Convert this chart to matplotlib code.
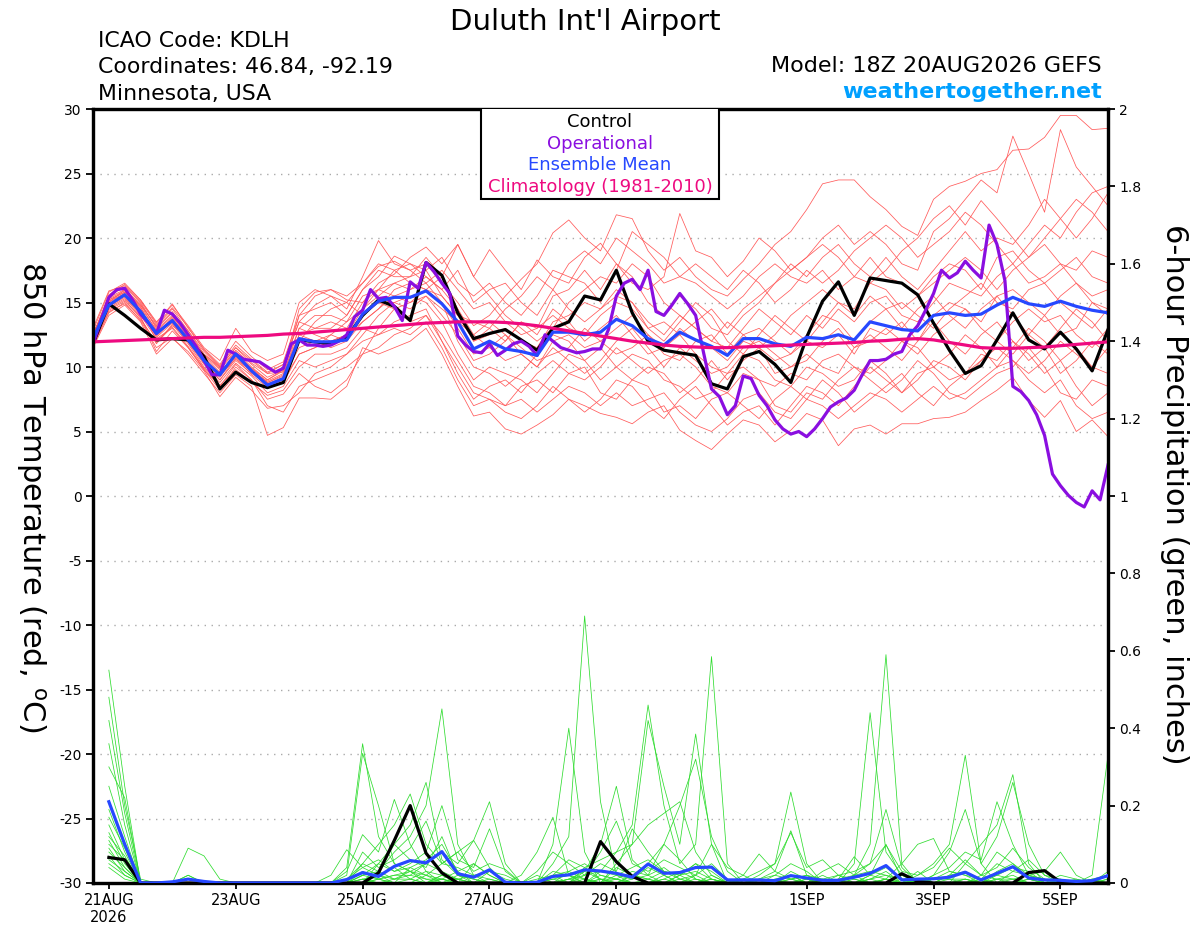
import numpy as np
import matplotlib
matplotlib.use('Agg')
import matplotlib.pyplot as plt
from matplotlib.patches import Rectangle

plt.rcParams['axes.unicode_minus'] = False
plt.rcParams['font.family'] = 'DejaVu Sans'

# forecast times: 18Z 20AUG2026 run, 6-hourly to 384h (operational 3-hourly)
init = np.datetime64('2026-08-20T18:00')
times = init + np.arange(65) * np.timedelta64(6, 'h')
oper_times = init + np.arange(129) * np.timedelta64(3, 'h')

# 850 hPa temperature (C)
control_t = [11.8, 14.9, 14.0, 13.0, 12.1, 12.2, 12.1, 10.8, 8.3, 9.6,
             8.8, 8.4, 8.8, 12.1, 11.95, 11.8, 12.3, 14.0, 15.2, 14.7,
             13.6, 18.1, 17.1, 14.2, 12.2, 12.6, 12.9, 12.1, 11.3, 13.0,
             13.5, 15.5, 15.2, 17.5, 14.2, 12.0, 11.3, 11.1, 10.9, 8.7,
             8.3, 10.8, 11.2, 10.2, 8.8, 12.3, 15.1, 16.6, 14.0, 16.9,
             16.7, 16.5, 15.6, 13.4, 11.3, 9.5, 10.1, 12.1, 14.2, 12.1,
             11.4, 12.7, 11.4, 9.7, 12.9]
mean_t = [12.2, 14.8, 15.6, 14.3, 12.6, 13.6, 12.1, 10.5, 9.4, 11.0,
          9.7, 8.6, 9.1, 12.2, 11.95, 11.95, 12.1, 14.1, 15.1, 15.4,
          15.4, 15.9, 14.9, 13.5, 11.4, 12.0, 11.4, 11.2, 10.9, 12.7,
          12.7, 12.5, 12.7, 13.7, 13.2, 12.2, 11.7, 12.7, 12.1, 11.6,
          10.9, 12.2, 12.2, 11.8, 11.6, 12.3, 12.2, 12.5, 12.1, 13.5,
          13.2, 12.9, 12.8, 14.0, 14.2, 14.0, 14.1, 14.8, 15.4, 14.9,
          14.7, 15.1, 14.7, 14.4, 14.2]
clim_t = [11.95, 12.0, 12.05, 12.1, 12.15, 12.2, 12.25, 12.3, 12.3, 12.35,
          12.4, 12.45, 12.55, 12.6, 12.7, 12.8, 12.9, 13.0, 13.1, 13.2,
          13.3, 13.4, 13.45, 13.5, 13.5, 13.5, 13.45, 13.35, 13.2, 13.0,
          12.8, 12.6, 12.4, 12.2, 12.0, 11.85, 11.7, 11.6, 11.55, 11.5,
          11.5, 11.55, 11.6, 11.65, 11.7, 11.75, 11.8, 11.85, 11.9, 12.0,
          12.05, 12.15, 12.2, 12.1, 11.9, 11.7, 11.5, 11.45, 11.45, 11.5,
          11.55, 11.65, 11.75, 11.85, 11.95]
oper_t = [11.8, 13.6, 15.4, 16.0, 16.1, 15.2, 14.1, 13.4, 12.6, 14.4,
          14.1, 13.4, 12.5, 11.6, 10.5, 9.4, 9.4, 11.3, 11.0, 10.6,
          10.5, 10.4, 10.0, 9.6, 9.9, 11.8, 12.1, 11.7, 11.7, 11.6,
          11.7, 12.0, 12.5, 13.9, 14.4, 16.0, 15.3, 15.4, 14.7, 13.6,
          16.6, 16.1, 18.1, 17.4, 16.5, 15.7, 12.4, 11.7, 11.2, 11.1,
          11.8, 10.9, 11.3, 11.8, 12.0, 11.6, 10.9, 12.5, 12.0, 11.5,
          11.3, 11.1, 11.2, 11.4, 11.4, 12.9, 15.5, 16.5, 16.8, 16.0,
          17.5, 14.3, 14.0, 14.8, 15.7, 14.9, 14.0, 11.1, 8.3, 7.7,
          6.3, 7.0, 9.3, 9.1, 7.8, 7.0, 5.9, 5.2, 4.8, 5.0,
          4.6, 5.2, 6.0, 6.9, 7.3, 7.6, 8.2, 9.4, 10.5, 10.5,
          10.6, 11.0, 11.2, 12.5, 13.2, 14.4, 15.7, 17.5, 16.9, 17.3,
          18.2, 17.5, 16.9, 21.0, 19.5, 16.7, 8.5, 8.1, 7.4, 6.3,
          4.7, 1.7, 0.8, 0.05, -0.5, -0.85, 0.4, -0.3, 2.4]

# ensemble members, 850 hPa temperature
members_t = [
    [12.5, 15.5, 16.2, 15.0, 13.0, 14.2, 12.8, 11.0, 10.0, 11.5, 10.5, 9.5, 10.2,
     13.5, 14.8, 15.5, 15.0, 16.5, 17.8, 18.2, 17.5, 18.0, 16.5, 15.0, 13.2, 14.0,
     15.5, 16.8, 18.0, 20.4, 21.4, 20.0, 19.0, 21.8, 21.5, 19.0, 17.5, 18.5, 17.0,
     16.0, 15.5, 16.8, 18.0, 19.5, 20.5, 22.2, 24.2, 24.5, 24.5, 23.2, 22.2, 20.9,
     20.2, 23.0, 24.0, 24.4, 25.0, 25.3, 26.8, 26.9, 27.8, 29.5, 29.5, 28.4, 28.5],
    [12.0, 15.2, 15.8, 14.8, 12.8, 13.9, 12.5, 10.9, 9.8, 11.2, 10.0, 9.0, 9.8,
     14.5, 15.8, 16.0, 15.2, 15.0, 16.5, 17.2, 18.5, 19.3, 18.0, 19.5, 17.0, 19.1,
     17.5, 16.0, 18.3, 17.0, 16.5, 18.5, 19.6, 18.0, 16.5, 16.0, 17.0, 21.9, 19.0,
     18.5, 17.0, 18.2, 20.0, 19.0, 17.5, 18.5, 20.0, 21.0, 19.5, 20.5, 19.5, 18.0,
     17.5, 20.5, 21.5, 23.0, 24.5, 23.5, 27.9, 25.0, 22.0, 28.4, 25.5, 24.0, 22.5],
    [11.6, 14.2, 15.0, 13.6, 11.5, 12.3, 11.0, 9.5, 8.0, 9.4, 8.5, 4.7, 5.3,
     7.6, 7.6, 7.5, 8.5, 11.5, 11.0, 11.5, 12.0, 13.0, 11.0, 8.5, 6.2, 6.5,
     5.2, 4.8, 5.5, 6.3, 7.5, 7.0, 6.4, 6.1, 5.6, 6.5, 7.0, 5.1, 4.3,
     3.6, 4.8, 5.9, 5.5, 4.2, 5.1, 6.4, 5.9, 3.9, 5.2, 5.5, 4.8, 5.6,
     5.6, 6.0, 6.1, 6.5, 7.4, 8.2, 9.2, 7.4, 6.1, 7.4, 5.0, 5.9, 4.6],
    [12.3, 14.6, 15.3, 14.0, 12.2, 13.0, 11.5, 9.8, 8.5, 10.2, 9.0, 7.5, 7.9,
     9.5, 8.5, 8.0, 9.0, 11.0, 13.0, 14.5, 13.5, 14.0, 12.0, 10.0, 8.0, 7.5,
     7.0, 8.5, 9.0, 8.0, 9.5, 10.0, 8.0, 7.5, 9.0, 8.5, 6.5, 7.0, 6.0,
     7.5, 8.0, 7.0, 6.0, 7.5, 8.5, 7.5, 9.0, 8.0, 6.5, 7.5, 8.5, 9.5,
     8.0, 7.0, 8.5, 9.5, 11.0, 10.5, 12.0, 11.0, 9.5, 10.5, 8.5, 7.0, 8.0],
    [12.0, 15.0, 16.0, 14.8, 13.2, 14.5, 12.8, 11.2, 10.0, 11.5, 10.3, 9.5, 9.6,
     12.5, 13.0, 13.5, 13.0, 15.0, 16.0, 16.5, 16.0, 17.0, 16.0, 14.5, 12.0, 12.5,
     13.0, 12.0, 11.5, 13.5, 14.0, 15.0, 14.5, 15.5, 15.0, 13.5, 12.5, 14.0, 13.0,
     12.0, 11.5, 13.0, 14.5, 13.5, 12.5, 14.0, 13.0, 14.5, 13.5, 15.0, 15.5, 14.0,
     13.5, 15.0, 16.5, 16.0, 15.5, 17.0, 18.0, 16.5, 17.0, 18.0, 16.5, 15.5, 16.0],
    [12.8, 15.8, 16.5, 15.2, 13.5, 14.8, 13.2, 11.5, 10.5, 13.0, 11.2, 10.5, 11.0,
     15.0, 16.0, 15.5, 14.5, 17.0, 19.8, 18.0, 17.5, 16.5, 17.5, 16.0, 14.5, 15.0,
     13.5, 12.5, 13.0, 15.5, 16.0, 17.5, 16.0, 18.0, 17.0, 15.0, 14.0, 15.5, 14.5,
     13.0, 12.5, 14.0, 15.0, 16.5, 18.0, 17.0, 18.5, 19.5, 18.0, 17.0, 18.5, 17.0,
     16.0, 17.5, 19.0, 20.5, 19.0, 20.0, 19.5, 21.0, 23.0, 21.5, 20.0, 21.5, 23.5],
    [11.8, 14.5, 15.2, 13.8, 11.8, 13.3, 11.8, 10.0, 8.8, 10.3, 9.3, 8.0, 8.5,
     10.5, 10.0, 10.5, 11.0, 12.5, 14.0, 15.0, 15.5, 15.0, 13.5, 11.0, 9.0, 10.0,
     9.5, 9.0, 8.0, 9.5, 11.0, 10.5, 11.5, 10.0, 9.0, 10.0, 9.5, 8.0, 9.0,
     10.5, 9.0, 10.5, 11.5, 9.5, 10.0, 11.0, 10.0, 9.5, 11.5, 12.5, 11.5, 10.5,
     12.0, 13.5, 12.0, 11.0, 12.5, 13.5, 12.0, 10.5, 11.5, 9.5, 10.5, 12.0, 11.0],
    [12.5, 15.3, 15.9, 14.6, 12.9, 14.0, 12.3, 10.8, 9.6, 11.0, 9.8, 8.8, 9.4,
     13.0, 12.5, 12.0, 12.5, 14.5, 15.5, 16.5, 17.0, 17.5, 15.5, 14.0, 13.5, 13.0,
     12.0, 13.5, 12.5, 14.5, 13.5, 12.0, 13.0, 14.0, 12.5, 11.0, 11.5, 12.5, 11.0,
     10.0, 9.5, 11.0, 10.5, 9.0, 8.5, 10.0, 9.5, 8.5, 9.0, 10.5, 9.5, 8.0,
     9.5, 10.0, 9.0, 9.5, 10.5, 12.0, 11.0, 12.5, 14.0, 12.5, 13.0, 15.0, 14.5],
    [12.1, 14.9, 15.5, 14.2, 12.4, 13.6, 12.0, 10.3, 9.2, 10.8, 9.6, 8.5, 9.0,
     11.0, 11.5, 12.5, 12.0, 13.5, 14.5, 15.5, 15.0, 16.0, 15.0, 13.0, 11.0, 11.5,
     10.5, 11.0, 10.0, 12.0, 12.5, 11.5, 12.0, 13.0, 14.0, 12.5, 11.5, 13.0, 12.0,
     11.5, 10.5, 12.0, 11.5, 10.5, 11.0, 12.0, 11.5, 12.5, 11.0, 13.0, 12.5, 13.5,
     12.0, 14.0, 15.0, 14.5, 13.5, 15.5, 16.0, 15.0, 14.0, 15.5, 16.5, 15.0, 14.0],
    [12.4, 15.6, 16.4, 15.2, 13.4, 14.9, 13.0, 11.4, 10.2, 12.0, 10.8, 9.8, 10.4,
     14.0, 14.5, 15.0, 14.0, 16.0, 17.0, 18.6, 18.0, 17.0, 16.0, 17.5, 15.0, 16.0,
     16.5, 15.0, 14.0, 16.0, 18.0, 19.0, 18.0, 20.0, 19.0, 18.0, 16.5, 17.0, 16.5,
     15.5, 14.5, 15.5, 17.0, 18.0, 17.0, 16.5, 17.5, 16.0, 17.0, 18.5, 17.0, 16.5,
     15.5, 16.5, 17.5, 18.5, 17.5, 16.0, 17.5, 18.5, 19.5, 18.0, 17.5, 19.0, 18.5],
    [11.9, 14.4, 15.1, 13.9, 11.2, 12.8, 11.5, 9.8, 8.2, 10.0, 9.0, 7.0, 6.5,
     8.5, 9.0, 9.5, 10.0, 11.0, 11.5, 12.5, 13.0, 14.0, 12.5, 10.5, 8.5, 8.0,
     7.0, 7.5, 6.5, 7.5, 8.5, 8.0, 7.0, 8.0, 7.0, 7.5, 8.0, 6.5, 5.5,
     5.0, 6.0, 7.5, 8.0, 6.5, 6.0, 7.5, 7.0, 6.0, 7.0, 8.0, 7.5, 6.5,
     7.5, 8.5, 7.5, 8.0, 9.0, 10.0, 10.5, 9.0, 8.0, 9.0, 7.0, 6.0, 6.5],
    [12.6, 15.1, 15.7, 14.4, 12.7, 13.7, 12.2, 10.6, 9.4, 10.6, 9.7, 8.9, 9.5,
     12.0, 13.5, 14.5, 15.0, 14.0, 15.0, 15.0, 14.5, 15.5, 14.5, 13.5, 12.5, 11.5,
     12.5, 11.5, 10.5, 11.0, 11.5, 13.0, 12.0, 11.0, 11.5, 12.5, 11.0, 10.5, 12.0,
     12.5, 11.0, 12.5, 13.0, 12.0, 11.0, 12.5, 14.0, 13.5, 12.0, 13.5, 14.5, 15.0,
     14.0, 13.0, 14.5, 15.5, 16.5, 15.0, 14.5, 16.0, 16.5, 15.0, 14.0, 13.0, 14.5],
    [12.2, 14.7, 15.4, 14.1, 12.5, 13.5, 12.0, 10.4, 9.0, 10.5, 9.5, 8.7, 9.2,
     11.5, 12.0, 11.5, 12.0, 14.0, 15.0, 14.5, 15.0, 15.5, 14.0, 12.5, 10.5, 11.0,
     12.0, 13.5, 13.0, 14.0, 13.0, 12.5, 14.0, 15.0, 14.5, 13.0, 13.5, 12.5, 13.5,
     14.5, 13.0, 14.5, 15.5, 16.5, 17.5, 18.5, 19.5, 18.5, 17.0, 16.5, 17.5, 19.0,
     20.0, 21.5, 22.5, 21.0, 22.9, 21.5, 20.0, 18.5, 20.0, 21.5, 23.0, 22.0, 20.5],
    [11.7, 14.3, 14.9, 13.7, 11.9, 13.1, 11.6, 9.9, 8.6, 9.8, 8.8, 7.8, 8.2,
     10.0, 11.0, 11.0, 11.5, 13.0, 12.5, 13.5, 14.0, 14.5, 12.0, 9.5, 7.5, 8.5,
     9.0, 8.0, 9.5, 10.5, 9.5, 9.0, 10.0, 11.5, 10.5, 9.5, 10.5, 11.0, 10.0,
     8.5, 8.0, 9.5, 9.0, 8.5, 9.5, 9.0, 10.5, 11.0, 10.0, 9.5, 10.5, 12.0,
     11.5, 10.0, 11.0, 12.5, 11.5, 10.0, 11.5, 13.0, 12.0, 10.5, 11.5, 10.0, 9.5],
    [12.3, 15.4, 16.0, 14.9, 13.1, 14.3, 12.6, 11.0, 9.9, 11.3, 10.2, 9.2, 9.8,
     13.0, 14.0, 14.0, 13.5, 15.5, 16.0, 17.5, 16.5, 16.0, 17.0, 19.5, 17.0, 15.5,
     14.0, 13.0, 12.0, 13.0, 15.0, 16.0, 17.0, 16.5, 18.0, 17.0, 15.0, 14.0, 13.0,
     12.0, 13.5, 12.5, 11.5, 12.5, 14.0, 15.0, 16.0, 15.0, 14.0, 15.5, 14.5, 13.0,
     14.5, 15.5, 14.0, 13.0, 14.5, 15.5, 14.0, 12.5, 11.5, 13.0, 14.5, 13.5, 12.0],
    [12.0, 14.8, 15.5, 14.4, 12.6, 13.8, 12.3, 10.5, 9.3, 10.9, 9.9, 8.8, 9.3,
     12.5, 12.0, 12.5, 13.5, 14.5, 16.0, 15.5, 16.0, 16.5, 15.0, 12.0, 10.0, 9.5,
     8.5, 9.5, 11.0, 12.5, 12.0, 10.5, 9.0, 10.0, 11.0, 10.5, 9.0, 8.5, 7.5,
     8.0, 9.5, 10.0, 9.0, 7.0, 6.5, 8.0, 7.5, 9.0, 10.0, 9.0, 8.0, 9.0,
     10.5, 9.5, 8.0, 7.5, 8.5, 9.5, 10.0, 11.5, 10.0, 8.0, 7.5, 9.0, 8.5],
    [12.4, 15.0, 15.7, 14.5, 12.3, 13.4, 11.9, 10.2, 9.0, 10.7, 9.4, 8.4, 8.8,
     11.0, 11.5, 12.0, 12.5, 13.5, 14.5, 16.0, 16.5, 16.0, 15.5, 14.0, 12.0, 13.0,
     14.5, 15.5, 17.0, 16.0, 14.5, 13.5, 14.5, 16.0, 15.0, 13.0, 12.0, 13.5, 15.0,
     14.0, 12.0, 11.0, 12.5, 14.0, 13.0, 12.0, 13.5, 15.0, 14.5, 16.5, 16.0, 14.5,
     15.5, 17.0, 18.0, 17.5, 16.0, 18.5, 19.0, 17.5, 16.5, 17.5, 18.5, 17.0, 16.5],
    [13.0, 15.9, 16.3, 15.1, 13.3, 14.6, 13.1, 11.3, 10.1, 11.7, 10.6, 9.6, 10.2,
     13.5, 13.0, 13.0, 14.0, 16.0, 17.5, 17.0, 17.0, 18.5, 17.0, 14.5, 12.5, 13.5,
     12.5, 11.0, 10.0, 11.5, 10.5, 9.5, 10.5, 12.0, 13.0, 11.5, 10.0, 11.5, 10.5,
     9.5, 10.0, 11.5, 12.0, 11.0, 10.0, 10.5, 12.0, 13.0, 11.5, 12.0, 13.0, 12.0,
     11.0, 12.5, 13.5, 14.5, 13.0, 12.0, 13.5, 14.5, 13.5, 14.0, 12.5, 11.5, 13.0],
    [11.5, 14.0, 14.8, 13.5, 11.0, 12.2, 11.2, 9.7, 7.7, 9.2, 8.2, 6.8, 7.0,
     8.0, 9.5, 10.0, 11.0, 12.0, 12.5, 13.0, 12.5, 13.5, 11.5, 9.0, 7.0, 7.5,
     6.5, 6.0, 7.0, 8.5, 7.5, 6.5, 7.5, 9.0, 8.5, 7.0, 6.0, 7.5, 8.5,
     7.0, 5.5, 6.5, 7.0, 5.5, 7.0, 8.5, 8.0, 7.0, 8.5, 10.0, 9.0, 8.0,
     9.0, 10.5, 10.0, 9.0, 10.5, 11.5, 10.5, 9.5, 10.5, 12.0, 11.0, 10.0, 11.5],
    [12.2, 15.2, 15.8, 14.7, 12.0, 13.2, 12.4, 10.7, 9.5, 11.1, 9.9, 9.0, 9.7,
     14.0, 15.5, 16.0, 15.5, 16.5, 18.0, 17.5, 18.0, 17.5, 18.5, 16.5, 15.5, 16.5,
     15.0, 14.0, 15.5, 17.5, 17.0, 16.5, 15.0, 17.5, 20.5, 19.5, 18.5, 17.0, 18.0,
     17.0, 16.0, 17.5, 16.5, 15.0, 16.0, 17.5, 16.5, 17.5, 19.0, 20.0, 21.0, 20.0,
     18.5, 19.5, 20.5, 22.0, 21.0, 19.5, 18.0, 19.5, 21.0, 20.0, 22.0, 23.5, 24.0],
]

# 6-hour precipitation (inches), valid 6h..384h
control_p = [0.066, 0.06, 0, 0, 0, 0, 0, 0, 0, 0, 0, 0, 0, 0, 0, 0,
             0, 0.026, 0.11, 0.2, 0.077, 0.026, 0, 0, 0, 0, 0, 0, 0, 0,
             0, 0.107, 0.055, 0.017, 0, 0, 0, 0, 0, 0, 0, 0, 0, 0, 0, 0,
             0, 0, 0, 0, 0.024, 0.004, 0, 0, 0, 0, 0, 0, 0.027, 0.032,
             0.002, 0, 0, 0]
mean_p = [0.21, 0.10, 0, 0, 0.003, 0.01, 0.004, 0, 0, 0, 0, 0, 0, 0, 0, 0.009,
          0.027, 0.017, 0.043, 0.058, 0.052, 0.081, 0.024, 0.015, 0.034, 0.002, 0, 0.002,
          0.017, 0.021, 0.034, 0.031, 0.025, 0.015, 0.049, 0.025, 0.027, 0.04, 0.041,
          0.008, 0.008, 0.008, 0.006, 0.019, 0.013, 0.007, 0.007, 0.015, 0.025, 0.045,
          0.008, 0.01, 0.011, 0.015, 0.028, 0.008, 0.025, 0.042, 0.013, 0.008, 0.007,
          0.004, 0.006, 0.019]
members_p = [
    [0.55, 0.25, 0, 0, 0, 0, 0, 0, 0, 0, 0, 0, 0, 0, 0, 0.02, 0.335, 0.2, 0.05,
     0.03, 0, 0.02, 0, 0, 0, 0, 0, 0, 0.05, 0.12, 0.69, 0.21, 0.02, 0, 0, 0, 0, 0, 0,
     0, 0, 0, 0, 0.01, 0, 0, 0, 0, 0.02, 0.10, 0.01, 0, 0, 0, 0, 0, 0, 0, 0,
     0, 0, 0, 0, 0],
    [0.48, 0.2, 0.01, 0, 0, 0, 0, 0, 0, 0, 0, 0, 0, 0, 0, 0, 0, 0.03, 0.08,
     0.12, 0.2, 0.45, 0.1, 0.02, 0, 0, 0, 0, 0, 0, 0, 0.03, 0.08, 0.15, 0.46, 0.2, 0.05, 0.1, 0.585,
     0.05, 0, 0, 0, 0, 0, 0, 0, 0.02, 0.1, 0.59, 0.05, 0, 0, 0, 0, 0, 0, 0, 0,
     0, 0, 0, 0.02, 0.33],
    [0.42, 0.18, 0, 0, 0, 0.09, 0.07, 0.01, 0, 0, 0, 0, 0, 0, 0, 0, 0.05, 0.1, 0.15,
     0.23, 0.1, 0.05, 0.08, 0.11, 0.21, 0.05, 0, 0, 0.1, 0.40, 0.08, 0, 0, 0, 0, 0, 0.02, 0.05, 0.03,
     0, 0, 0.02, 0.05, 0.235, 0.05, 0, 0, 0, 0, 0, 0, 0.02, 0.05, 0.1, 0.33, 0.05, 0, 0, 0,
     0, 0, 0, 0, 0],
    [0.36, 0.15, 0, 0, 0, 0, 0, 0, 0, 0, 0, 0, 0, 0, 0, 0, 0, 0.05, 0.1,
     0.15, 0.26, 0.06, 0.02, 0, 0, 0, 0.02, 0.08, 0.17, 0.02, 0, 0, 0.05, 0.1, 0.42, 0.25, 0.1, 0.385, 0.1,
     0, 0, 0, 0.02, 0.05, 0.03, 0, 0, 0.05, 0.44, 0.08, 0.02, 0, 0, 0, 0.05, 0.1, 0.15, 0.28, 0.05,
     0, 0, 0, 0, 0],
    [0.30, 0.22, 0, 0, 0, 0, 0, 0, 0, 0, 0, 0, 0, 0, 0, 0.03, 0.125, 0.08, 0.216,
     0.1, 0.03, 0, 0, 0.05, 0.02, 0, 0, 0, 0, 0, 0.03, 0.1, 0.25, 0.06, 0.02, 0.1, 0.2, 0.32, 0.12,
     0.03, 0, 0.01, 0.03, 0.135, 0.02, 0, 0, 0.02, 0.05, 0.19, 0.04, 0, 0.02, 0.04, 0.08, 0.06, 0.21, 0.1, 0.02,
     0, 0, 0, 0, 0.02],
    [0.25, 0.12, 0, 0, 0, 0.02, 0, 0, 0, 0, 0, 0, 0, 0, 0.02, 0.086, 0.04, 0.06, 0.03,
     0.05, 0.08, 0.2, 0.06, 0.04, 0.14, 0.03, 0, 0, 0.02, 0, 0.04, 0.06, 0.08, 0.1, 0.15, 0.18, 0.21, 0.08, 0.02,
     0, 0, 0, 0, 0.02, 0, 0.03, 0.05, 0.02, 0, 0, 0, 0, 0.02, 0.08, 0.19, 0.05, 0.12, 0.26, 0.1,
     0.02, 0, 0, 0, 0],
    [0.21, 0.1, 0, 0, 0, 0, 0, 0, 0, 0, 0, 0, 0, 0, 0, 0, 0.02, 0.05, 0.03,
     0.04, 0.06, 0.1, 0.03, 0, 0.03, 0.01, 0, 0, 0, 0, 0.02, 0.05, 0.03, 0.14, 0.08, 0.03, 0.02, 0.05, 0.01,
     0, 0.02, 0.075, 0.03, 0.01, 0.02, 0.01, 0, 0, 0, 0.01, 0.05, 0.10, 0.115, 0.03, 0.02, 0, 0.03, 0.05, 0.02,
     0.03, 0.08, 0.02, 0, 0],
    [0.19, 0.08, 0, 0, 0, 0, 0, 0, 0, 0, 0, 0, 0, 0, 0, 0.04, 0.36, 0.12, 0.05,
     0.03, 0.05, 0.08, 0.05, 0.11, 0.04, 0, 0, 0.03, 0.08, 0.05, 0.02, 0.08, 0.16, 0.05, 0.03, 0.06, 0.04, 0.02, 0.1,
     0.04, 0.02, 0, 0.01, 0, 0, 0, 0.02, 0.03, 0.05, 0.098, 0.03, 0.02, 0.04, 0.09, 0.05, 0.02, 0.04, 0.09, 0.04,
     0.01, 0, 0, 0.01, 0],
    [0.17, 0.09, 0, 0, 0, 0, 0, 0, 0, 0, 0, 0, 0, 0, 0, 0, 0.08, 0.04, 0.06,
     0.09, 0.16, 0.05, 0.08, 0.03, 0.05, 0.035, 0, 0, 0, 0, 0, 0, 0.02, 0.04, 0.06, 0.03, 0.01, 0, 0,
     0, 0.01, 0.03, 0.05, 0.13, 0.04, 0.06, 0.02, 0.01, 0, 0, 0, 0.03, 0, 0.02, 0.03, 0.01, 0.05, 0.03, 0.06,
     0.02, 0.01, 0, 0, 0.01],
    [0.15, 0.06, 0, 0, 0, 0, 0, 0, 0, 0, 0, 0, 0, 0, 0, 0, 0.02, 0.03, 0.1,
     0.06, 0.04, 0.12, 0.02, 0.01, 0, 0, 0, 0.01, 0.02, 0.06, 0.04, 0.01, 0, 0.02, 0.05, 0.1, 0.06, 0.01, 0,
     0, 0, 0, 0, 0.03, 0.01, 0, 0.01, 0.068, 0.02, 0.04, 0.01, 0, 0, 0.02, 0.06, 0.02, 0.08, 0.05, 0.01,
     0, 0.02, 0.01, 0, 0.03],
    [0.13, 0.05, 0, 0, 0, 0, 0, 0, 0, 0, 0, 0, 0, 0, 0, 0, 0.03, 0.01, 0.02,
     0.02, 0.05, 0.03, 0.01, 0, 0, 0, 0, 0.02, 0, 0.03, 0.05, 0.02, 0.01, 0.03, 0.02, 0, 0.01, 0.02, 0.05,
     0.01, 0, 0, 0, 0.02, 0, 0.02, 0, 0, 0.01, 0.03, 0, 0.01, 0, 0, 0.01, 0, 0.02, 0.04, 0.03,
     0, 0, 0, 0, 0],
    [0.12, 0.07, 0, 0, 0, 0.02, 0, 0, 0, 0, 0, 0, 0, 0, 0, 0.01, 0.05, 0.03, 0.01,
     0.03, 0.02, 0.05, 0.04, 0.02, 0.01, 0, 0, 0, 0.03, 0.02, 0.01, 0, 0.04, 0.02, 0.01, 0.03, 0.02, 0, 0.02,
     0, 0, 0.01, 0.02, 0.01, 0, 0, 0.01, 0.02, 0.03, 0.02, 0.01, 0, 0.01, 0.03, 0.02, 0.01, 0, 0.03, 0.02,
     0.01, 0, 0, 0.01, 0.02],
    [0.11, 0.04, 0, 0, 0, 0, 0, 0, 0, 0, 0, 0, 0, 0, 0, 0, 0.01, 0.02, 0.04,
     0.01, 0.03, 0.02, 0.01, 0.02, 0.03, 0.02, 0, 0, 0, 0.01, 0.02, 0.03, 0.02, 0.01, 0.04, 0.02, 0, 0.01, 0,
     0, 0.01, 0, 0, 0, 0.01, 0, 0, 0.01, 0, 0, 0.02, 0.01, 0, 0, 0, 0.01, 0.02, 0.01, 0,
     0, 0.01, 0, 0, 0],
    [0.10, 0.06, 0, 0, 0, 0, 0, 0, 0, 0, 0, 0, 0, 0, 0, 0, 0.02, 0.01, 0,
     0.04, 0.02, 0.01, 0.03, 0.05, 0.02, 0, 0, 0, 0.01, 0, 0, 0.02, 0.01, 0, 0, 0.01, 0.03, 0.01, 0,
     0.01, 0, 0, 0.01, 0.02, 0, 0.01, 0, 0, 0.01, 0.02, 0, 0, 0.01, 0.01, 0, 0.02, 0.01, 0, 0.01,
     0, 0, 0.01, 0, 0],
    [0.09, 0.03, 0, 0, 0, 0, 0, 0, 0, 0, 0, 0, 0, 0, 0, 0.01, 0.04, 0.02, 0.01,
     0.01, 0, 0.02, 0.01, 0, 0, 0, 0, 0, 0.02, 0.03, 0.01, 0, 0, 0.01, 0.02, 0.04, 0.01, 0, 0.01,
     0, 0, 0, 0, 0.01, 0.02, 0, 0, 0, 0.02, 0.01, 0, 0, 0, 0.01, 0.01, 0, 0.01, 0.02, 0,
     0, 0, 0, 0, 0.01],
    [0.08, 0.04, 0, 0, 0, 0, 0, 0, 0, 0, 0, 0, 0, 0, 0, 0, 0, 0.01, 0.02,
     0.03, 0.01, 0, 0.02, 0.01, 0, 0, 0, 0, 0, 0.01, 0.03, 0.01, 0, 0, 0.01, 0, 0.02, 0.03, 0.01,
     0, 0, 0.01, 0, 0, 0, 0.01, 0.02, 0, 0, 0.01, 0, 0, 0, 0, 0, 0, 0.01, 0.01, 0.02,
     0.01, 0, 0, 0, 0],
    [0.07, 0.02, 0, 0, 0, 0, 0, 0, 0, 0, 0, 0, 0, 0, 0, 0, 0.01, 0, 0.01,
     0.02, 0.01, 0.01, 0, 0, 0.01, 0, 0, 0, 0.01, 0.02, 0, 0.01, 0.01, 0, 0, 0.01, 0, 0.02, 0,
     0, 0, 0, 0, 0, 0.01, 0, 0, 0, 0.01, 0, 0.01, 0, 0, 0, 0.01, 0, 0, 0.01, 0,
     0, 0, 0, 0, 0],
    [0.06, 0.03, 0, 0, 0, 0, 0, 0, 0, 0, 0, 0, 0, 0, 0, 0, 0, 0.02, 0,
     0.01, 0, 0.01, 0, 0, 0, 0, 0, 0, 0, 0, 0.01, 0, 0, 0.02, 0.01, 0, 0, 0, 0.01,
     0, 0, 0, 0, 0, 0, 0, 0.01, 0, 0, 0.01, 0, 0, 0, 0, 0, 0.01, 0, 0, 0.01,
     0, 0, 0, 0, 0],
    [0.05, 0.02, 0, 0, 0, 0, 0, 0, 0, 0, 0, 0, 0, 0, 0, 0, 0.01, 0, 0,
     0, 0.02, 0, 0.01, 0, 0, 0, 0, 0, 0, 0.01, 0, 0, 0.01, 0, 0, 0.02, 0, 0, 0,
     0, 0, 0, 0, 0, 0, 0, 0, 0, 0, 0, 0, 0.01, 0, 0, 0, 0, 0, 0, 0,
     0, 0, 0, 0.01, 0],
    [0.04, 0.01, 0, 0, 0, 0, 0, 0, 0, 0, 0, 0, 0, 0, 0, 0, 0, 0.01, 0,
     0, 0, 0.01, 0, 0, 0, 0, 0, 0, 0, 0, 0, 0.01, 0, 0, 0, 0, 0, 0, 0,
     0, 0, 0, 0, 0, 0, 0, 0, 0, 0, 0, 0, 0, 0, 0, 0, 0, 0, 0, 0,
     0, 0, 0, 0, 0],
]

tick_dates = ['2026-08-21', '2026-08-23', '2026-08-25', '2026-08-27',
              '2026-08-29', '2026-09-01', '2026-09-03', '2026-09-05']
tick_labels = ['21AUG\n2026', '23AUG', '25AUG', '27AUG', '29AUG', '1SEP', '3SEP', '5SEP']
precip_ticks = [0, 0.2, 0.4, 0.6, 0.8, 1.0, 1.2, 1.4, 1.6, 1.8, 2.0]
precip_labels = ['0', '0.2', '0.4', '0.6', '0.8', '1', '1.2', '1.4', '1.6', '1.8', '2']

RED = '#ff5a5a'
GREEN = '#2fdc2f'
PURPLE = '#8a0ee0'
BLUE = '#2648ff'
PINK = '#ee0a80'

fig = plt.figure(figsize=(12, 9.27), dpi=100)
ax = fig.add_axes([93/1200, 1 - 883/927, 1015/1200, 774/927])
ax2 = ax.twinx()

# temperature panel
for m in members_t:
    ax.plot(times, m, color=RED, lw=0.55, zorder=2)
ax.plot(times, control_t, color='black', lw=2.3, zorder=4)
ax.plot(oper_times, oper_t, color=PURPLE, lw=2.3, zorder=5)
ax.plot(times, mean_t, color=BLUE, lw=2.3, zorder=6)
ax.plot(times, clim_t, color=PINK, lw=2.3, zorder=7)

# precipitation panel
ptimes = times[1:]
for m in members_p:
    ax2.plot(ptimes, m, color=GREEN, lw=0.55, zorder=2)
ax2.plot(ptimes, control_p, color='black', lw=2.3, zorder=4)
ax2.plot(ptimes, mean_p, color=BLUE, lw=2.3, zorder=5)

ax.set_xlim(times[0], times[-1])
ax.set_ylim(-30, 30)
ax2.set_ylim(0, 2)
ax.set_yticks(np.arange(-30, 31, 5))
ax.yaxis.grid(True, color='#aaaaaa', linestyle=(0, (1, 4)), lw=1)
ax.set_axisbelow(True)
ax2.set_yticks(precip_ticks)
ax2.set_yticklabels(precip_labels)
ax.set_xticks(np.array(tick_dates, dtype='datetime64[h]'))
ax.set_xticklabels(tick_labels)

ax.tick_params(axis='y', direction='out', length=5, width=1.3, labelsize=10, pad=3)
ax.tick_params(axis='x', direction='out', length=4, width=1.3, labelsize=10.5, pad=3)
ax2.tick_params(axis='y', direction='out', length=5, width=1.3, labelsize=10, pad=3)
for a in (ax, ax2):
    for s in a.spines.values():
        s.set_linewidth(2.3)

# legend box
ax2.add_patch(Rectangle((0.382, 0.884), 0.2347, 0.2, transform=ax2.transAxes,
                        facecolor='white', edgecolor='black', lw=1.5, zorder=10,
                        clip_on=True))
leg_items = [('Control', 'black'), ('Operational', PURPLE),
             ('Ensemble Mean', BLUE), ('Climatology (1981-2010)', PINK)]
for k, (txt, col) in enumerate(leg_items):
    ax2.text(0.4995, 0.9767 - k * 0.0278, txt, color=col, fontsize=13,
             ha='center', va='baseline', transform=ax2.transAxes, zorder=11)

# header texts
fig.text(585/1200, 1 - 30/927, "Duluth Int'l Airport", fontsize=21,
         ha='center', va='baseline')
fig.text(98/1200, 1 - 47/927, 'ICAO Code: KDLH', fontsize=15.8, va='baseline')
fig.text(98/1200, 1 - 73/927, 'Coordinates: 46.84, -92.19', fontsize=15.8, va='baseline')
fig.text(98/1200, 1 - 100/927, 'Minnesota, USA', fontsize=15.8, va='baseline')
fig.text(1102/1200, 1 - 72/927, 'Model: 18Z 20AUG2026 GEFS', fontsize=16,
         ha='right', va='baseline')
fig.text(1102/1200, 1 - 98/927, 'weathertogether.net', fontsize=16,
         fontweight='bold', color='#00a0ff', ha='right', va='baseline')

fig.text(31/1200, 1 - 497/927, '850 hPa Temperature (red, $^{\\mathrm{o}}$C)',
         fontsize=22, rotation=270, ha='center', va='center')
fig.text(1175/1200, 1 - 494/927, '6-hour Precipitation (green, inches)',
         fontsize=22, rotation=270, ha='center', va='center')

fig.savefig('out.png', dpi=100)
